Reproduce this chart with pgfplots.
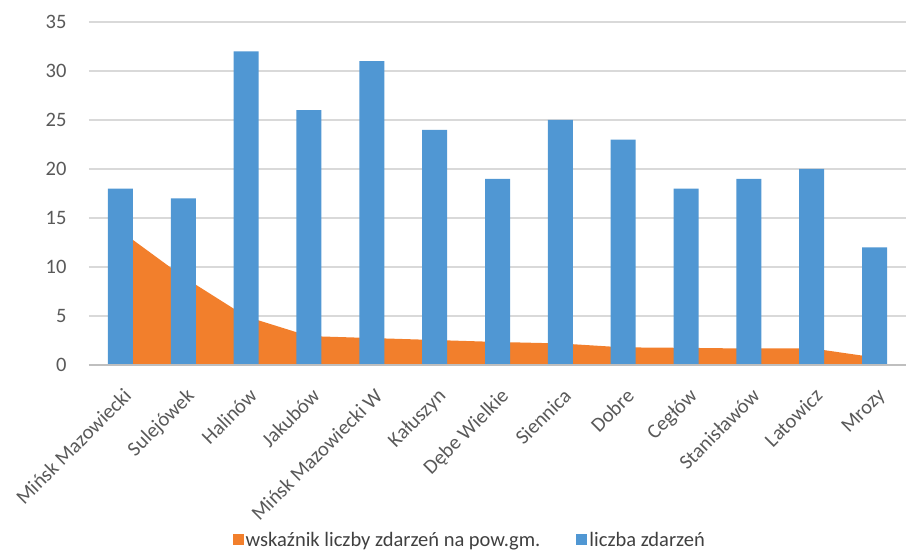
\documentclass[border=0pt]{standalone}
\usepackage{pgfplots}
\pgfplotsset{compat=1.18}
\usepackage{fontspec}
\setmainfont{Carlito}

\definecolor{barblue}{HTML}{5097D3}
\definecolor{areaorange}{HTML}{F27F2C}
\definecolor{txtgray}{HTML}{595959}
\definecolor{legendgray}{HTML}{404040}
\definecolor{gridgray}{HTML}{D9D9D9}
\definecolor{basegray}{HTML}{BFBFBF}

\newcommand{\chartfont}{\fontsize{20.5}{24}\selectfont}

\begin{document}
\begin{tikzpicture}
\begin{axis}[
  scale only axis,
  width=817pt, height=343pt,
  xmin=-0.5, xmax=12.5,
  ymin=0, ymax=35,
  ytick={0,5,...,35},
  xtick={0,...,12},
  xticklabels={Mińsk Mazowiecki, Sulejówek, Halinów, Jakubów, Mińsk Mazowiecki W, Kałuszyn, Dębe Wielkie, Siennica, Dobre, Cegłów, Stanisławów, Latowicz, Mrozy},
  axis line style={draw=none},
  major tick length=0pt,
  ymajorgrids,
  grid style={gridgray, line width=1.2pt},
  tick label style={font=\chartfont, text=txtgray},
  /pgf/number format/assume math mode=true,
  yticklabel style={xshift=-19pt},
  xticklabel style={xshift=2pt, yshift=-22pt, rotate=45, anchor=north east, inner sep=0pt},
  legend columns=2,
  legend style={draw=none, fill=none, font=\chartfont,
    text=legendgray, at={(axis description cs:0.466,-0.510)}, anchor=center,
    /tikz/every even column/.append style={column sep=34pt}},
  legend image code/.code={\fill[#1] (0pt,-5.5pt) rectangle (11pt,5.5pt);},
]
% events per municipality area index
\addplot[fill=areaorange, draw=none] coordinates {
  (0,13.7) (1,9.0) (2,4.95) (3,2.95) (4,2.75) (5,2.55) (6,2.35)
  (7,2.2) (8,1.8) (9,1.75) (10,1.68) (11,1.7) (12,0.78)
} \closedcycle;
\addlegendentry{wskaźnik liczby zdarzeń na pow.gm.}
% number of events
\addplot[ybar, bar width=25pt, fill=barblue, draw=none] coordinates {
  (0,18) (1,17) (2,32) (3,26) (4,31) (5,24) (6,19)
  (7,25) (8,23) (9,18) (10,19) (11,20) (12,12)
};
\addlegendentry{liczba zdarzeń}
\draw[basegray, line width=1.2pt] (rel axis cs:0,0) -- (rel axis cs:1,0);
\coordinate (ll) at (rel axis cs:0,0);
\coordinate (ur) at (rel axis cs:1,1);
\end{axis}
\pgfresetboundingbox
\useasboundingbox ([shift={(-89pt,-191pt)}]ll) rectangle ([shift={(1pt,22pt)}]ur);
\end{tikzpicture}
\end{document}
